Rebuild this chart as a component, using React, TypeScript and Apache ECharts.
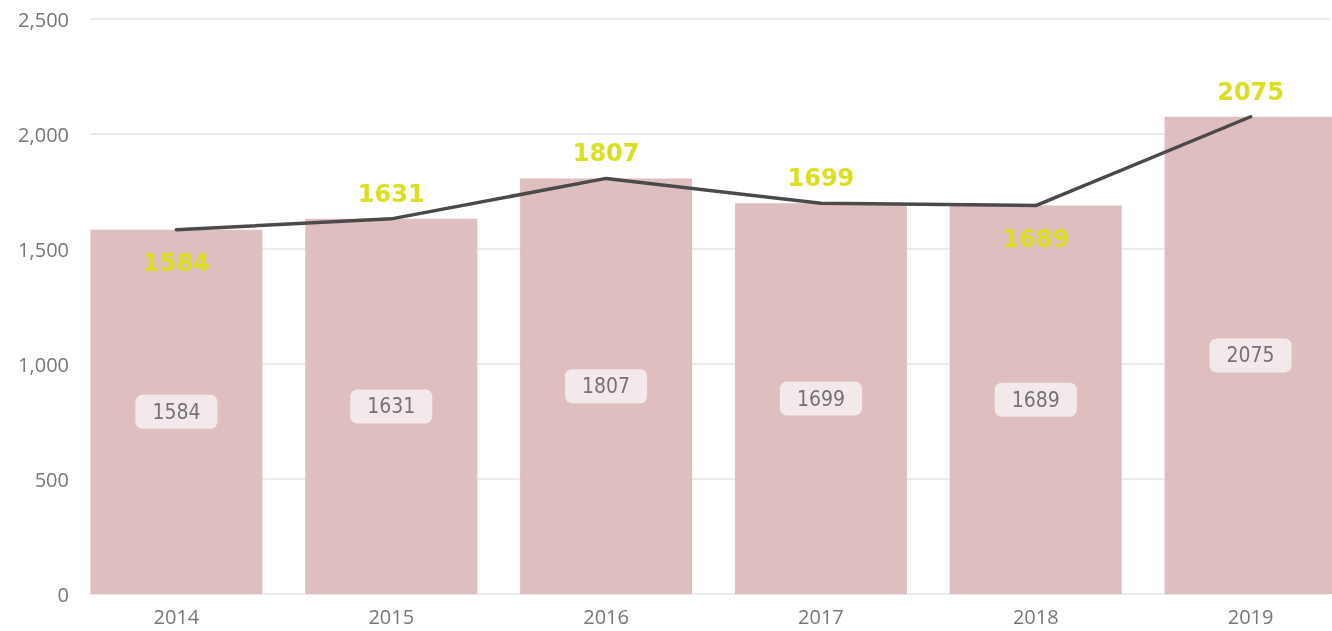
import React, { useEffect, useRef } from "react";
import * as echarts from "echarts";

const years = ["2014", "2015", "2016", "2017", "2018", "2019"];
const barValues = [1584, 1631, 1807, 1699, 1689, 2075];
const lineValues = [1584, 1631, 1807, 1699, 1689, 2075];
const yTicks = { min: 0, max: 2500, interval: 500 };

export default function App() {
  const ref = useRef<HTMLDivElement>(null);
  useEffect(() => {
    if (!ref.current) return;
    const chart = echarts.init(ref.current, null, { renderer: "svg" });
    const labelBelow = new Set([0, 4]);
    const axisFont = "'Open Sans', 'Noto Sans', sans-serif";
    chart.setOption({
      animation: false,
      grid: [
        { left: 69, right: 2, top: 19, bottom: 37 },
        { left: 90, right: 30, top: 19, bottom: 37 },
      ],
      xAxis: [
        {
          type: "category",
          gridIndex: 0,
          data: years,
          axisLine: { show: false },
          axisTick: { show: false },
          axisLabel: { color: "#777", fontSize: 20, fontFamily: axisFont, margin: 12 },
        },
        {
          type: "value",
          gridIndex: 1,
          show: false,
        },
      ],
      yAxis: [
        {
          type: "value",
          gridIndex: 0,
          ...yTicks,
          show: false,
          splitLine: { show: false },
        },
        {
          type: "value",
          gridIndex: 1,
          ...yTicks,
          axisLine: { show: false },
          axisTick: { show: false },
          axisLabel: {
            color: "#777",
            fontSize: 20,
            fontFamily: axisFont,
            margin: 21,
            formatter: (v: number) => v.toLocaleString("en-US"),
          },
          splitLine: { lineStyle: { color: "#ebebeb", width: 2 } },
        },
      ],
      series: [
        {
          type: "bar",
          xAxisIndex: 0,
          yAxisIndex: 0,
          data: barValues,
          barWidth: 172,
          itemStyle: { color: "#dfbec0" },
          label: {
            show: true,
            position: "inside",
            color: "#737373",
            fontSize: 21,
            lineHeight: 22,
            fontFamily: "'DejaVu Sans Condensed', Roboto, sans-serif",
            backgroundColor: "#f4e9ea",
            borderRadius: 7,
            padding: [6, 17, 6, 17],
          },
        },
        {
          type: "line",
          xAxisIndex: 0,
          yAxisIndex: 0,
          data: lineValues.map((v, i) => ({
            value: v,
            label: labelBelow.has(i)
              ? { position: "bottom", distance: 20 }
              : { position: "top", distance: 12 },
          })),
          symbol: "circle",
          symbolSize: 2,
          itemStyle: { color: "#4a4a4a" },
          lineStyle: { color: "#4a4a4a", width: 3.5, cap: "round" },
          z: 5,
          label: {
            show: true,
            color: "#dae01f",
            fontSize: 24,
            lineHeight: 24,
            fontWeight: "bold",
            fontFamily: "'DejaVu Sans', sans-serif",
          },
        },
      ],
    });
    return () => chart.dispose();
  }, []);
  return (
    <div
      style={{
        position: "fixed",
        left: 0,
        top: 0,
        width: 1332,
        height: 631,
        overflow: "hidden",
      }}
    >
      <div ref={ref} style={{ width: 1360, height: 631 }} />
    </div>
  );
}
